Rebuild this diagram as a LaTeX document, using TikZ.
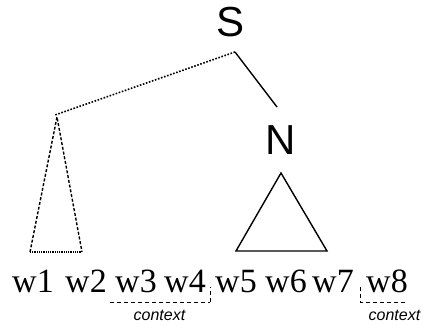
\documentclass[tikz,border=0pt]{standalone}
\usepackage{fontspec}
\setmainfont{Liberation Serif}
\setsansfont{Liberation Sans}
\begin{document}
\begin{tikzpicture}[x=1pt,y=1pt,
  cat/.style={font=\sffamily\fontsize{42}{42}\selectfont, inner sep=0pt},
  word/.style={font=\fontsize{34}{34}\selectfont, inner sep=0pt, anchor=base},
  ctx/.style={font=\sffamily\itshape\fontsize{16}{16}\selectfont, inner sep=0pt},
  solidline/.style={line width=1.4pt},
  dotline/.style={line width=1.6pt, dash pattern=on 1.6pt off 1.6pt},
  dashside/.style={line width=1.4pt, dash pattern=on 3pt off 1.8pt},
  densebase/.style={line width=1.6pt, dash pattern=on 1pt off 0.8pt},
  ctxline/.style={line width=0.9pt, dash pattern=on 4pt off 3pt}]
\useasboundingbox (0,0) rectangle (432,332);
% categories
\node[cat] (S) at (231,310) {S};
\node[cat] (N) at (281,192) {N};
\coordinate (Sj) at (235,280);
\coordinate (Nj) at (277,225);
\coordinate (Lj) at (55,217);
\draw[solidline] (Sj) -- (Nj);
\draw[dotline] (Sj) -- (Lj);
% dotted triangle
\coordinate (La) at (57,215);
\coordinate (Ll) at (30,80);
\coordinate (Lr) at (82,80);
\draw[dashside] (Ll) -- (La) -- (Lr);
\draw[densebase] (Ll) -- (Lr);
% solid triangle
\coordinate (Na) at (281,159);
\coordinate (Nl) at (236,81);
\coordinate (Nr) at (327,81);
\draw[solidline, line join=miter] (Na) -- (Nl) -- (Nr) -- cycle;
% words
\node[word] (w1) at (33,39) {w1};
\node[word] (w2) at (86,39) {w2};
\node[word] (w3) at (136,39) {w3};
\node[word] (w4) at (185,39) {w4};
\node[word] (w5) at (236,39) {w5};
\node[word] (w6) at (286,39) {w6};
\node[word] (w7) at (333,39) {w7};
\node[word] (w8) at (387,39) {w8};
% context brackets
\coordinate (c1a) at (110,30);
\coordinate (c1b) at (210,30);
\coordinate (c1c) at (210,45);
\draw[ctxline] (c1a) -- (c1b);
\draw[ctxline] (c1b) -- (c1c);
\coordinate (c2a) at (360,45);
\coordinate (c2b) at (360,30);
\coordinate (c2c) at (406,30);
\draw[ctxline] (c2a) -- (c2b) -- (c2c);
\node[ctx] (x1) at (159.5,17) {context};
\node[ctx] (x2) at (394.5,17) {context};
\end{tikzpicture}
\end{document}
